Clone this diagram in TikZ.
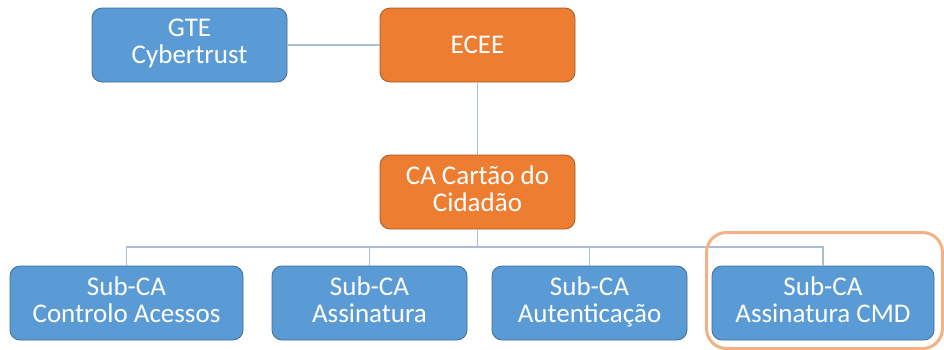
\documentclass[tikz,border=0pt]{standalone}
\usepackage{fontspec}
\setmainfont{Carlito}
\begin{document}
\begin{tikzpicture}[x=1pt,y=-1pt,
  box/.style={draw=#1!70!black, line width=0.8pt, rounded corners=10pt, text=white,
    align=center, font=\fontsize{27}{27}\selectfont, inner sep=0pt,
    execute at begin node=\rule{0pt}{24.4pt}, execute at end node=\rule[-7pt]{0pt}{7pt}},
  bluebox/.style={box=boxblue, fill=boxblue},
  orangebox/.style={box=boxorange, fill=boxorange},
  conn/.style={draw=connc, line width=1.3pt},
  hl/.style={draw=hlorange, line width=3pt, rounded corners=20pt}]
\definecolor{boxblue}{HTML}{5B9BD5}
\definecolor{boxorange}{HTML}{ED7D31}
\definecolor{connc}{HTML}{A9BCD8}
\definecolor{hlorange}{HTML}{F4B183}
\useasboundingbox (0,0) rectangle (944,349);
\fill[white] (0,0) rectangle (944,349);
\node[bluebox, minimum width=195pt, minimum height=74pt] (gte) at (189.5,45) {GTE\\Cybertrust};
\node[orangebox, minimum width=195pt, minimum height=74pt] (ecee) at (477.5,45) {ECEE};
\node[orangebox, minimum width=195pt, minimum height=74pt] (ca) at (477.5,192) {CA Cartão do\\Cidadão};
\node[bluebox, minimum width=233pt, minimum height=74pt] (b1) at (126.5,303) {Sub-CA\\Controlo Acessos};
\node[bluebox, minimum width=195pt, minimum height=74pt] (b2) at (369.5,303) {Sub-CA\\Assinatura};
\node[bluebox, minimum width=195pt, minimum height=74pt] (b3) at (589.5,303) {Sub-CA\\Autenticação};
\node[bluebox, minimum width=222pt, minimum height=74pt] (b4) at (823,303) {Sub-CA\\Assinatura CMD};
\coordinate (bus) at (477.5,247);
\path[conn] (gte.east) -- (ecee.west);
\path[conn] (ecee.south) -- (ca.north);
\path[conn] (ca.south) -- (bus);
\path[conn] (bus) -| (b1.north);
\path[conn] (bus) -| (b2.north);
\path[conn] (bus) -| (b3.north);
\path[conn] (bus) -| (b4.north);
\node[hl, minimum width=236pt, minimum height=116pt, inner sep=0pt] (hl) at (824.5,290.5) {};
\end{tikzpicture}
\end{document}
